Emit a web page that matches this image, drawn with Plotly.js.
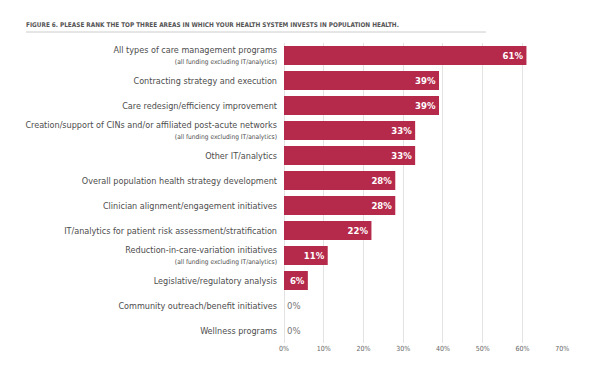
<!DOCTYPE html>
<html><head><meta charset="utf-8">
<script src="https://cdn.plot.ly/plotly-3.0.1.min.js"></script>
<style>body{margin:0;background:#fff}#c{width:612px;height:375px}</style>
</head><body><div id="c"></div>
<script>
const categories = [
  "All types of care management programs",
  "Contracting strategy and execution",
  "Care redesign/efficiency improvement",
  "Creation/support of CINs and/or affiliated post-acute networks",
  "Other IT/analytics",
  "Overall population health strategy development",
  "Clinician alignment/engagement initiatives",
  "IT/analytics for patient risk assessment/stratification",
  "Reduction-in-care-variation initiatives",
  "Legislative/regulatory analysis",
  "Community outreach/benefit initiatives",
  "Wellness programs"
];
const subLabels = [
  "(all funding excluding IT/analytics)", "", "",
  "(all funding excluding IT/analytics)", "", "", "", "",
  "(all funding excluding IT/analytics)", "", "", ""
];
const values = [61, 39, 39, 33, 33, 28, 28, 22, 11, 6, 0, 0];
const xTickVals = [0, 10, 20, 30, 40, 50, 60, 70];
const xTickText = ["0%", "10%", "20%", "30%", "40%", "50%", "60%", "70%"];
const titleText = "FIGURE 6. PLEASE RANK THE TOP THREE AREAS IN WHICH YOUR HEALTH SYSTEM INVESTS IN POPULATION HEALTH.";

const FONT = "'DejaVu Sans Condensed', 'Liberation Sans', sans-serif";
const tickText = categories.map((c, i) => subLabels[i] ? c + '<br><span style="font-size:6.6px">' + subLabels[i] + '</span>' : c);

const trace = {
  type: 'bar', orientation: 'h',
  y: categories, x: values,
  marker: {color: '#b5294b', line: {width: 0}},
  width: 0.76,
  text: values.map(v => v + '%'),
  textposition: values.map(v => v > 0 ? 'inside' : 'outside'),
  insidetextanchor: 'end',
  insidetextfont: {family: FONT, size: 9.5, color: '#ffffff', weight: 'bold'},
  outsidetextfont: {family: FONT, size: 9.5, color: '#777777'},
  cliponaxis: false,
  hoverinfo: 'none'
};

const layout = {
  width: 612, height: 375,
  margin: {l: 284, r: 49, t: 43, b: 32},
  paper_bgcolor: '#fff', plot_bgcolor: '#fff',
  showlegend: false,
  font: {family: FONT, color: '#4d4d4d'},
  title: {
    text: '<b>' + titleText + '</b>',
    font: {family: FONT, size: 6.4, color: '#555'},
    xref: 'container', yref: 'container', x: 26/612, xanchor: 'left',
    y: 1 - 25/375, yanchor: 'middle'
  },
  xaxis: {
    range: [0, 70.2], tickvals: xTickVals, ticktext: xTickText,
    showgrid: true, gridcolor: '#e3e3e3', gridwidth: 1,
    zeroline: true, zerolinecolor: '#e3e3e3', zerolinewidth: 1,
    showline: false, ticks: '',
    tickfont: {family: FONT, size: 7, color: '#666'}
  },
  yaxis: {
    type: 'category', autorange: 'reversed',
    tickvals: categories, ticktext: tickText,
    ticks: '', showgrid: false, zeroline: false, showline: false,
    ticklabelstandoff: 6,
    tickfont: {family: FONT, size: 9, color: '#4d4d4d'}
  },
  shapes: [{
    type: 'line', xref: 'paper', yref: 'paper',
    x0: (26-284)/279, x1: (486-284)/279, y0: (343-32)/300, y1: (343-32)/300,
    line: {color: '#cccccc', width: 1}
  }]
};

Plotly.newPlot('c', [trace], layout, {staticPlot: true, displayModeBar: false});
</script>
</body></html>
